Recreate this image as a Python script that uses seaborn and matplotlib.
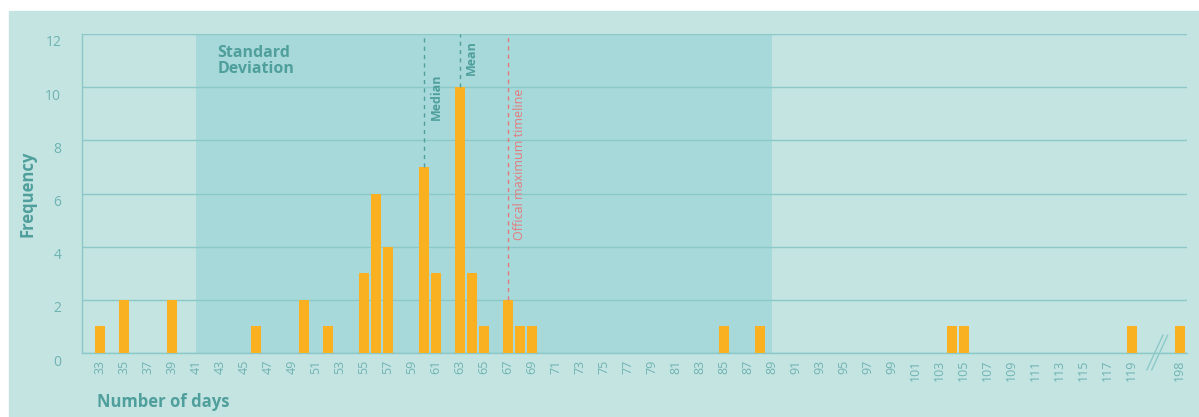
import matplotlib
matplotlib.use("Agg")
import matplotlib.pyplot as plt
from matplotlib.patches import Rectangle
from matplotlib.transforms import ScaledTranslation
import pandas as pd
import seaborn as sns

# data
days = [33, 35, 39, 46, 50, 52, 55, 56, 57, 60, 61, 63, 64, 65, 67, 68, 69,
        85, 88, 104, 105, 119, 198]
frequency = [1, 2, 2, 1, 2, 1, 3, 6, 4, 7, 3, 10, 3, 1, 2, 1, 1,
             1, 1, 1, 1, 1, 1]
tick_days = list(range(33, 120, 2)) + [198]
median_day = 60
mean_day = 63
official_day = 67
std_range = (41, 89)

# colours
BG = "#c4e4e2"
SHADE = "#a7d9da"
GRID = "#8bc9c8"
BAR = "#f9b121"
TEAL = "#4f9f9d"
TICK = "#6db3b2"
RED = "#e5797c"

sns.set_theme(style="white")
plt.rcParams["font.family"] = ["Open Sans", "DejaVu Sans"]


def pos(d):
    # days above 119 sit after an axis break
    return d - 33 if d <= 119 else 90


df = pd.DataFrame({"pos": [pos(d) for d in days], "freq": frequency})

fig = plt.figure(figsize=(11.99, 4.17), dpi=100, facecolor="white")
fig.patches.append(Rectangle((9 / 1199, 0), 1 - 9 / 1199, 406 / 417,
                             transform=fig.transFigure, color=BG, zorder=-10))
ax = fig.add_axes([82 / 1199, 64 / 417, 1105 / 1199, 319 / 417])
ax.set_facecolor(BG)

sns.barplot(data=df, x="pos", y="freq", native_scale=True, color=BAR,
            saturation=1, width=0.8, linewidth=0, ax=ax, zorder=3)

ax.axvspan(pos(std_range[0]), pos(std_range[1]), color=SHADE, zorder=0.2, lw=0)

ax.set_xlim(-1.5, 90.6)
ax.set_ylim(0, 12)
ax.set_yticks(range(0, 13, 2))
ax.set_xticks([pos(d) for d in tick_days])
ax.set_xticklabels([str(d) for d in tick_days], rotation=90)
ax.tick_params(axis="x", length=0, pad=5, labelsize=9, labelcolor=TICK)
ax.tick_params(axis="y", length=0, pad=15, labelsize=10, labelcolor=TICK)
for lab in ax.get_yticklabels():
    lab.set_transform(lab.get_transform() + ScaledTranslation(0, -0.07, fig.dpi_scale_trans))

ax.yaxis.grid(True, color=GRID, lw=1)
ax.set_axisbelow(True)
for s in ["top", "right"]:
    ax.spines[s].set_visible(False)
for s in ["left", "bottom"]:
    ax.spines[s].set_color(GRID)
    ax.spines[s].set_linewidth(1)

ax.set_xlabel("Number of days", fontsize=12, fontweight="bold", color=TEAL, ha="left")
ax.xaxis.set_label_coords(0.0136, -0.125)
ax.set_ylabel("Frequency", fontsize=12, fontweight="bold", color=TEAL)
ax.yaxis.set_label_coords(-0.041, 0.5)

# reference lines
top = {d: f for d, f in zip(days, frequency)}
ax.vlines(pos(median_day), top.get(median_day, 0), 12, color=TEAL, lw=1,
          linestyles=(0, (3, 3)), zorder=4)
ax.vlines(pos(mean_day), top.get(mean_day, 0), 12, color=TEAL, lw=1,
          linestyles=(0, (3, 3)), zorder=4)
ax.vlines(pos(official_day), top.get(official_day, 0), 12, color=RED, lw=1,
          linestyles=(0, (3, 3)), zorder=4)
ax.text(pos(median_day) + 0.5, 8.77, "Median", rotation=90, ha="left", va="bottom",
        fontsize=9, fontweight="bold", color=TEAL)
ax.text(pos(mean_day) + 0.4, 10.46, "Mean", rotation=90, ha="left", va="bottom",
        fontsize=9, fontweight="bold", color=TEAL)
ax.text(pos(official_day) + 0.4, 4.25, "Offical maximum timeline", rotation=90,
        ha="left", va="bottom", fontsize=9, color=RED)
ax.text(pos(std_range[0]) + 1.8, 11.6, "Standard\nDeviation", ha="left", va="top",
        fontsize=11.5, fontweight="bold", color=TEAL, linespacing=1.0)

# axis break marks
for dx in (0, 0.4):
    ax.plot([87.25 + dx, 88.6 + dx], [-0.64, 0.68], color=GRID, lw=1, clip_on=False)

fig.savefig("out.png", dpi=100, facecolor="white")
